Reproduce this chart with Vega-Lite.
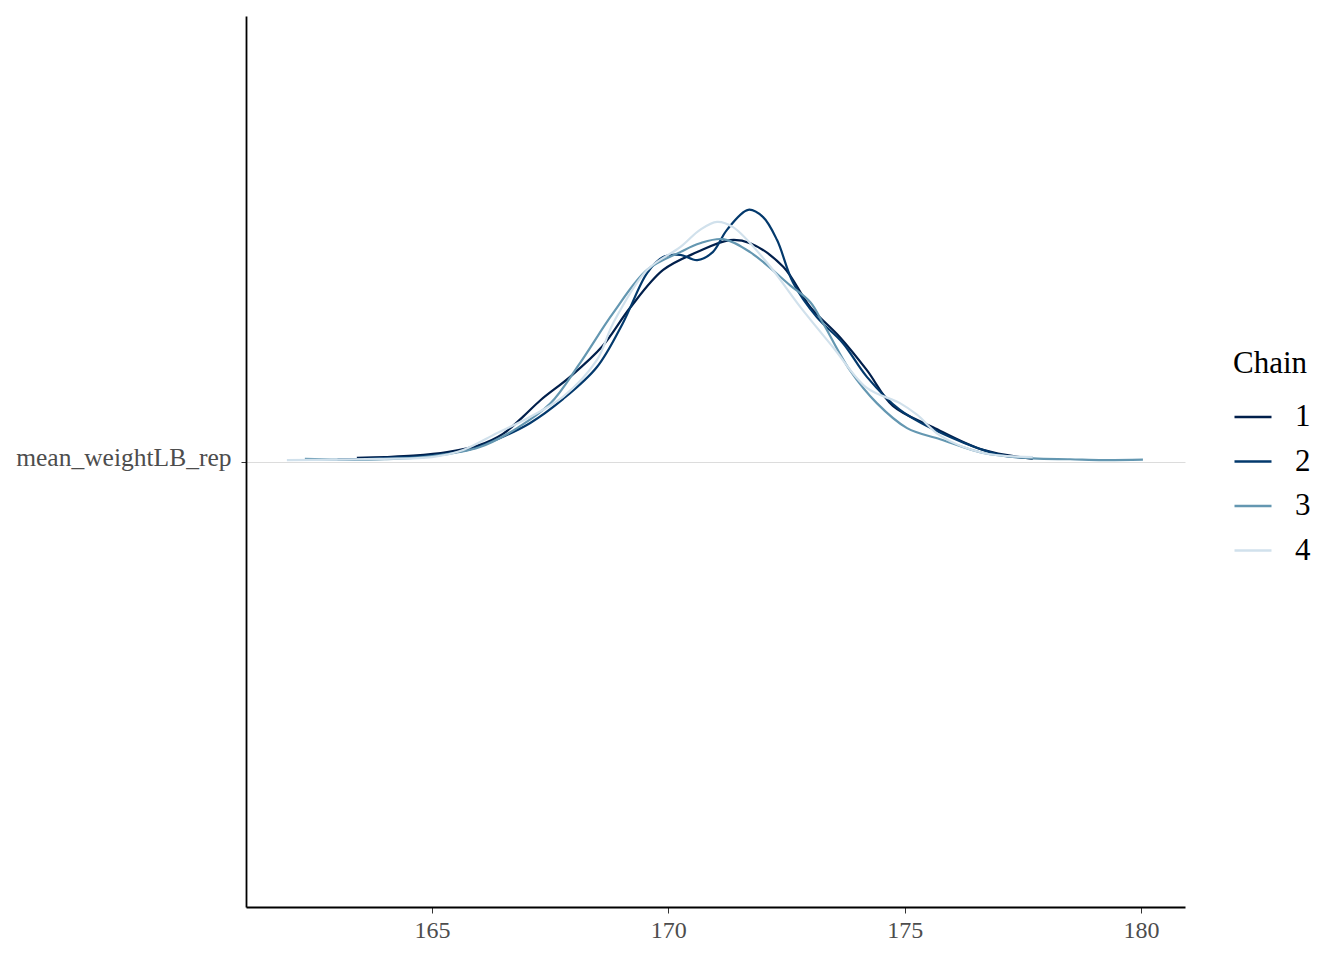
{
  "$schema": "https://vega.github.io/schema/vega-lite/v6.json",
  "autosize": "none",
  "width": 939,
  "height": 891,
  "padding": {"left": 246, "top": 16, "right": 159, "bottom": 53},
  "background": "white",
  "config": {"view": {"stroke": null}, "font": "Liberation Serif"},
  "data": {"values": [
    {"chain": "1", "x": 163.41, "d": 0.008},
    {"chain": "1", "x": 164.0, "d": 0.010},
    {"chain": "1", "x": 164.6, "d": 0.013},
    {"chain": "1", "x": 165.32, "d": 0.021},
    {"chain": "1", "x": 166.0, "d": 0.037},
    {"chain": "1", "x": 166.5, "d": 0.062},
    {"chain": "1", "x": 166.9, "d": 0.098},
    {"chain": "1", "x": 167.3, "d": 0.138},
    {"chain": "1", "x": 167.92, "d": 0.190},
    {"chain": "1", "x": 168.6, "d": 0.258},
    {"chain": "1", "x": 169.19, "d": 0.345},
    {"chain": "1", "x": 169.89, "d": 0.430},
    {"chain": "1", "x": 170.61, "d": 0.470},
    {"chain": "1", "x": 171.30, "d": 0.497},
    {"chain": "1", "x": 171.73, "d": 0.490},
    {"chain": "1", "x": 172.43, "d": 0.437},
    {"chain": "1", "x": 173.0, "d": 0.347},
    {"chain": "1", "x": 173.63, "d": 0.279},
    {"chain": "1", "x": 174.20, "d": 0.205},
    {"chain": "1", "x": 174.75, "d": 0.125},
    {"chain": "1", "x": 175.60, "d": 0.077},
    {"chain": "1", "x": 176.66, "d": 0.026},
    {"chain": "1", "x": 177.71, "d": 0.006},
    {"chain": "2", "x": 163.0, "d": 0.004},
    {"chain": "2", "x": 164.0, "d": 0.008},
    {"chain": "2", "x": 165.0, "d": 0.014},
    {"chain": "2", "x": 165.8, "d": 0.027},
    {"chain": "2", "x": 166.38, "d": 0.050},
    {"chain": "2", "x": 167.07, "d": 0.086},
    {"chain": "2", "x": 167.77, "d": 0.140},
    {"chain": "2", "x": 168.49, "d": 0.212},
    {"chain": "2", "x": 169.04, "d": 0.311},
    {"chain": "2", "x": 169.55, "d": 0.423},
    {"chain": "2", "x": 169.89, "d": 0.459},
    {"chain": "2", "x": 170.25, "d": 0.464},
    {"chain": "2", "x": 170.61, "d": 0.452},
    {"chain": "2", "x": 170.94, "d": 0.470},
    {"chain": "2", "x": 171.24, "d": 0.520},
    {"chain": "2", "x": 171.69, "d": 0.565},
    {"chain": "2", "x": 172.0, "d": 0.549},
    {"chain": "2", "x": 172.30, "d": 0.497},
    {"chain": "2", "x": 172.64, "d": 0.401},
    {"chain": "2", "x": 173.14, "d": 0.324},
    {"chain": "2", "x": 173.69, "d": 0.266},
    {"chain": "2", "x": 174.20, "d": 0.190},
    {"chain": "2", "x": 174.90, "d": 0.116},
    {"chain": "2", "x": 175.96, "d": 0.055},
    {"chain": "2", "x": 177.02, "d": 0.015},
    {"chain": "2", "x": 177.71, "d": 0.008},
    {"chain": "3", "x": 162.31, "d": 0.006},
    {"chain": "3", "x": 163.0, "d": 0.004},
    {"chain": "3", "x": 164.0, "d": 0.005},
    {"chain": "3", "x": 165.0, "d": 0.012},
    {"chain": "3", "x": 166.0, "d": 0.032},
    {"chain": "3", "x": 166.8, "d": 0.075},
    {"chain": "3", "x": 167.5, "d": 0.130},
    {"chain": "3", "x": 168.13, "d": 0.221},
    {"chain": "3", "x": 168.83, "d": 0.333},
    {"chain": "3", "x": 169.55, "d": 0.430},
    {"chain": "3", "x": 170.25, "d": 0.470},
    {"chain": "3", "x": 170.67, "d": 0.490},
    {"chain": "3", "x": 171.16, "d": 0.499},
    {"chain": "3", "x": 171.73, "d": 0.470},
    {"chain": "3", "x": 172.57, "d": 0.396},
    {"chain": "3", "x": 173.0, "d": 0.358},
    {"chain": "3", "x": 173.27, "d": 0.311},
    {"chain": "3", "x": 173.84, "d": 0.205},
    {"chain": "3", "x": 174.41, "d": 0.131},
    {"chain": "3", "x": 175.05, "d": 0.075},
    {"chain": "3", "x": 175.75, "d": 0.050},
    {"chain": "3", "x": 176.66, "d": 0.019},
    {"chain": "3", "x": 177.71, "d": 0.007},
    {"chain": "3", "x": 178.5, "d": 0.005},
    {"chain": "3", "x": 179.2, "d": 0.003},
    {"chain": "3", "x": 180.04, "d": 0.004},
    {"chain": "4", "x": 161.93, "d": 0.003},
    {"chain": "4", "x": 163.9, "d": 0.006},
    {"chain": "4", "x": 165.0, "d": 0.010},
    {"chain": "4", "x": 165.66, "d": 0.026},
    {"chain": "4", "x": 166.38, "d": 0.064},
    {"chain": "4", "x": 167.07, "d": 0.100},
    {"chain": "4", "x": 167.77, "d": 0.145},
    {"chain": "4", "x": 168.49, "d": 0.228},
    {"chain": "4", "x": 168.83, "d": 0.310},
    {"chain": "4", "x": 169.55, "d": 0.430},
    {"chain": "4", "x": 170.25, "d": 0.481},
    {"chain": "4", "x": 170.67, "d": 0.520},
    {"chain": "4", "x": 171.03, "d": 0.538},
    {"chain": "4", "x": 171.37, "d": 0.526},
    {"chain": "4", "x": 172.09, "d": 0.446},
    {"chain": "4", "x": 172.79, "d": 0.347},
    {"chain": "4", "x": 173.48, "d": 0.257},
    {"chain": "4", "x": 174.20, "d": 0.165},
    {"chain": "4", "x": 174.9, "d": 0.131},
    {"chain": "4", "x": 175.26, "d": 0.105},
    {"chain": "4", "x": 175.75, "d": 0.058},
    {"chain": "4", "x": 176.66, "d": 0.019},
    {"chain": "4", "x": 177.71, "d": 0.010}
  ]},
  "mark": {"type": "line", "interpolate": "catmull-rom", "strokeWidth": 2.2},
  "encoding": {
    "x": {
      "field": "x", "type": "quantitative",
      "scale": {"domain": [161.065, 180.93], "nice": false, "zero": false},
      "axis": {
        "title": null, "values": [165, 170, 175, 180], "grid": false,
        "domainColor": "black", "domainWidth": 1.8,
        "tickColor": "#333333", "tickSize": 6, "tickWidth": 1,
        "labelFont": "Liberation Serif", "labelFontSize": 24, "labelColor": "#4d4d4d",
        "labelPadding": 5
      }
    },
    "y": {
      "field": "d", "type": "quantitative",
      "scale": {"domain": [-1, 1], "nice": false, "zero": false},
      "axis": {
        "title": null, "values": [0], "labelExpr": "'mean_weightLB_rep'",
        "labelLimit": 0, "labelOffset": -4,
        "grid": true, "gridColor": "#dcdcdc", "gridWidth": 1,
        "domainColor": "black", "domainWidth": 1.8,
        "tickColor": "#333333", "tickSize": 5, "tickWidth": 1,
        "labelFont": "Liberation Serif", "labelFontSize": 25.5, "labelColor": "#4d4d4d",
        "labelPadding": 10
      }
    },
    "color": {
      "field": "chain", "type": "nominal",
      "scale": {"domain": ["1", "2", "3", "4"], "range": ["#011f4b", "#03396c", "#6497b1", "#d1e1ec"]},
      "legend": {
        "title": "Chain", "orient": "none", "legendX": 987, "legendY": 333,
        "titleFont": "Liberation Serif", "titleFontSize": 31, "titleFontWeight": "normal", "titleColor": "black",
        "titlePadding": 17,
        "labelFont": "Liberation Serif", "labelFontSize": 31, "labelColor": "black",
        "labelOffset": 22,
        "symbolType": "stroke", "symbolSize": 1369, "symbolStrokeWidth": 2.5,
        "rowPadding": 9.5
      }
    }
  }
}
